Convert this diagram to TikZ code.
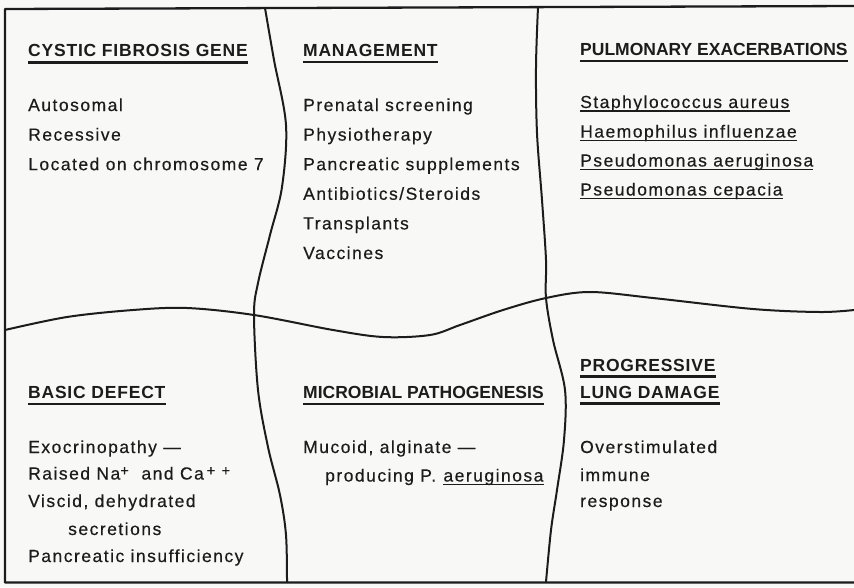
\documentclass[tikz,border=0pt]{standalone}
\usepackage{fontspec}
\setmainfont{Liberation Sans}
\newfontfamily\bodyfont{Liberation Sans}[LetterSpace=8.5, FakeBold=0.4]
\newfontfamily\headfont{Liberation Sans}[LetterSpace=4.5]
\newfontfamily\headtight{Liberation Sans}[LetterSpace=0]
\newfontfamily\plusfont{Liberation Sans}[FakeBold=0.4]
\definecolor{inkc}{HTML}{1C1C1C}
\definecolor{paper}{HTML}{F8F8F6}
% raised plus sign of an ion charge
\newcommand{\ionplus}{\raisebox{4pt}{\plusfont\fontsize{14.5}{14.5}\selectfont +}}
\begin{document}
\begin{tikzpicture}[x=1pt,y=-1pt,
  ink/.style={line width=2pt, draw=inkc, line cap=round, line join=round},
  head/.style={anchor=base west, inner sep=0pt, text=inkc,
    font=\headfont\bfseries\fontsize{17.5}{20}\selectfont},
  headtight/.style={anchor=base west, inner sep=0pt, text=inkc,
    font=\headtight\bfseries\fontsize{17.5}{20}\selectfont},
  item/.style={anchor=base west, inner sep=0pt, text=inkc,
    font=\bodyfont\fontsize{17.5}{20}\selectfont},
  hrule/.style={line width=2.4pt, draw=inkc},
  lrule/.style={line width=1.1pt, draw=inkc}]

% page and paper
\fill[paper] (0,0) rectangle (854,587);
\useasboundingbox (0,0) rectangle (854,587);

% outer frame (open on the right)
\draw[ink, line width=2.3pt, line cap=butt] (854,6) -- (5,9) -- (5,582.5) -- (854,582.5);

% wavy dividers
\draw[ink] plot[smooth, tension=0.55] coordinates {
  (265,8) (274,60) (286,125) (282,187) (270,235) (258,283) (254,315)
  (258,390) (268,447) (280,495) (286,535) (287,582)};
\draw[ink] plot[smooth, tension=0.55] coordinates {
  (538,7) (536,67) (537,133) (542,200) (546,260) (546,298) (553,340)
  (565,390) (564,440) (557,490) (551,530) (546,582)};
\draw[ink] plot[smooth, tension=0.55] coordinates {
  (5,330) (67,317) (133,310) (187,308) (254,315) (333,330) (383,337)
  (430,335) (460,325) (503,310) (546,298) (590,292) (653,298) (753,309)
  (820,312) (854,310)};

% ---- top left: the gene
\node[head] (hGene) at (28,56.5) {CYSTIC FIBROSIS GENE};
\draw[hrule] ([yshift=-6pt]hGene.base west) -- ([yshift=-6pt]hGene.base east);
\node[item] (g1) at (28,111) {Autosomal};
\node[item] (g2) at (28,140.6) {Recessive};
\node[item] (g3) at (28,170.2) {Located on chromosome 7};

% ---- top middle: management
\node[head] (hMan) at (303,56) {MANAGEMENT};
\draw[hrule] ([yshift=-6pt]hMan.base west) -- ([yshift=-6pt]hMan.base east);
\node[item] (m1) at (303,111) {Prenatal screening};
\node[item] (m2) at (303,140.6) {Physiotherapy};
\node[item] (m3) at (303,170.2) {Pancreatic supplements};
\node[item] (m4) at (303,199.8) {Antibiotics/Steroids};
\node[item] (m5) at (303,229.4) {Transplants};
\node[item] (m6) at (303,259) {Vaccines};

% ---- top right: exacerbations
\node[headtight] (hPul) at (580,55) {PULMONARY EXACERBATIONS};
\draw[hrule] ([yshift=-6pt]hPul.base west) -- ([yshift=-6pt]hPul.base east);
\node[item] (p1) at (580,108) {Staphylococcus aureus};
\node[item] (p2) at (580,137.5) {Haemophilus influenzae};
\node[item] (p3) at (580,166.5) {Pseudomonas aeruginosa};
\node[item] (p4) at (580,195.5) {Pseudomonas cepacia};
\foreach \n in {p1,p2,p3,p4}
  \draw[lrule] ([yshift=-3pt]\n.base west) -- ([yshift=-3pt]\n.base east);

% ---- bottom left: basic defect
\node[head] (hDef) at (28,398) {BASIC DEFECT};
\draw[hrule] ([yshift=-6pt]hDef.base west) -- ([yshift=-6pt]hDef.base east);
\node[item] (d1) at (28,453) {Exocrinopathy —};
\node[item] (d2) at (28,479.5) {Raised Na\ionplus\ \ and Ca\,\ionplus\ \ionplus};
\node[item] (d3) at (28,507) {Viscid, dehydrated};
\node[item] (d4) at (68,535) {secretions};
\node[item] (d5) at (28,562) {Pancreatic insufficiency};

% ---- bottom middle: pathogenesis
\node[headtight] (hMic) at (303,398) {MICROBIAL PATHOGENESIS};
\draw[hrule] ([yshift=-6pt]hMic.base west) -- ([yshift=-6pt]hMic.base east);
\node[item] (b1) at (303,453) {Mucoid, alginate —};
\node[item] (b2) at (325,481.5) {producing P.};
\node[item] (b3) at ([xshift=7pt]b2.base east) {aeruginosa};
\draw[lrule] ([yshift=-3pt]b3.base west) -- ([yshift=-3pt]b3.base east);

% ---- bottom right: lung damage
\node[head] (hPro) at (580,371) {PROGRESSIVE};
\draw[hrule] ([yshift=-5.5pt]hPro.base west) -- ([yshift=-5.5pt]hPro.base east);
\node[head] (hLung) at (580,398) {LUNG DAMAGE};
\draw[hrule] ([yshift=-5.5pt]hLung.base west) -- ([yshift=-5.5pt]hLung.base east);
\node[item] (l1) at (580,453) {Overstimulated};
\node[item] (l2) at (580,481) {immune};
\node[item] (l3) at (580,507) {response};
\end{tikzpicture}
\end{document}
